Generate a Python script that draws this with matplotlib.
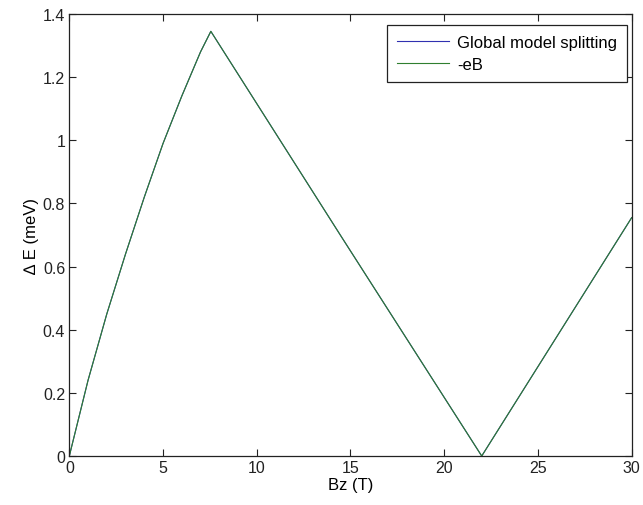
import numpy as np
import matplotlib
matplotlib.use("Agg")
import matplotlib.pyplot as plt

plt.rcParams["font.family"] = ["Liberation Sans", "DejaVu Sans"]

# Bz (T) and splitting (meV)
bz = [0, 1.0, 2.0, 3.0, 4.0, 5.0, 6.0, 7.0, 7.55, 14.53, 22.0, 30.0]
delta_e = [0, 0.24, 0.45, 0.64, 0.82, 0.99, 1.14, 1.28, 1.345, 0.693, 0.0, 0.755]
# -eB curve lies on top of the model curve
bz_eb = bz
delta_eb = delta_e

x_ticks = [0, 5, 10, 15, 20, 25, 30]
y_ticks = [0, 0.2, 0.4, 0.6, 0.8, 1.0, 1.2, 1.4]
y_tick_labels = ["0", "0.2", "0.4", "0.6", "0.8", "1", "1.2", "1.4"]

fig = plt.figure(figsize=(6.43, 5.06), dpi=100)
ax = fig.add_axes([0.1078, 0.0968, 0.8746, 0.8736])

ax.plot(bz, delta_e, color="#3030b0", lw=0.8, label="Global model splitting")
ax.plot(bz_eb, delta_eb, color="#2f7f2f", lw=0.8, label="-eB")

ax.set_xlim(0, 30)
ax.set_ylim(0, 1.4)
ax.set_xticks(x_ticks)
ax.set_yticks(y_ticks)
ax.set_yticklabels(y_tick_labels)
ax.tick_params(direction="in", length=5, width=0.8, top=True, right=True,
               labelsize=11.5, pad=3, colors="#222222")
for s in ax.spines.values():
    s.set_linewidth(0.9)
    s.set_color("#222222")

ax.set_xlabel("Bz (T)", fontsize=12, labelpad=1)
ax.set_ylabel("\u2206 E (meV)", fontsize=12, labelpad=3)

leg = ax.legend(loc="upper right", bbox_to_anchor=(0.9917, 0.975),
                borderaxespad=0, fontsize=12, fancybox=False,
                handlelength=3.1, handletextpad=0.5, borderpad=0.6,
                labelspacing=0.4, framealpha=1)
leg.get_frame().set_edgecolor("#222222")
leg.get_frame().set_linewidth(0.9)

fig.savefig("out.png", dpi=100)
